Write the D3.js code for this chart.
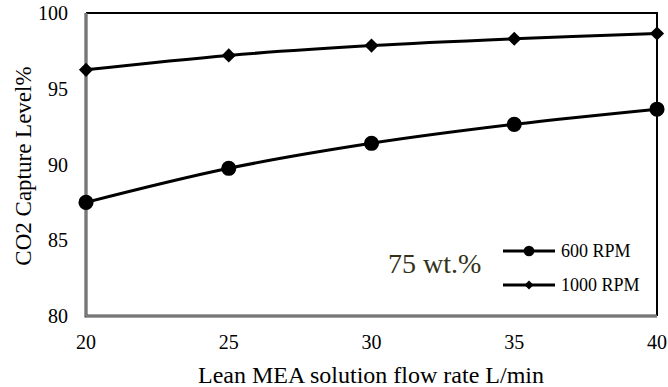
<!DOCTYPE html>
<html>
  <head>
    <meta charset="utf-8">
    <title>CO2 capture level</title>
    <script src="https://cdn.jsdelivr.net/npm/d3@7"></script>
    <style>
      body { margin: 0; background: #fff; }
      svg text { font-family: "Liberation Serif", "Times New Roman", serif; fill: #000; }
    </style>
  </head>
  <body>
    <div id="chart"></div>
    <script>
      // data
      var flowRates = [20, 25, 30, 35, 40];
      var rpm600 = [87.5, 89.75, 91.4, 92.65, 93.65];
      var rpm1000 = [96.25, 97.2, 97.85, 98.3, 98.65];
      var xTicks = [20, 25, 30, 35, 40];
      var yTicks = [80, 85, 90, 95, 100];

      var width = 668, height = 387;
      var margin = { top: 13, right: 11, bottom: 71, left: 86 };
      var w = width - margin.left - margin.right;
      var h = height - margin.top - margin.bottom;

      var svg = d3.select("#chart")
        .append("svg")
          .attr("width", width)
          .attr("height", height);

      var x = d3.scaleLinear().domain([20, 40]).range([margin.left, margin.left + w]);
      var y = d3.scaleLinear().domain([80, 100]).range([margin.top + h, margin.top]);

      // top and right frame in black
      svg.append("path")
        .attr("d", "M" + x(20) + "," + y(100) + "H" + x(40) + "V" + y(80))
        .attr("fill", "none")
        .attr("stroke", "#000")
        .attr("stroke-width", 2);

      // left and bottom axis lines, grey with dark edges
      var axisPath = "M" + x(20) + "," + y(100) + "V" + y(80) + "H" + x(40);
      svg.append("path")
        .attr("d", axisPath)
        .attr("fill", "none")
        .attr("stroke", "#444")
        .attr("stroke-width", 3);
      svg.append("path")
        .attr("d", axisPath)
        .attr("fill", "none")
        .attr("stroke", "#aaa")
        .attr("stroke-width", 1);

      // tick labels
      svg.selectAll(".ytick")
        .data(yTicks)
        .enter().append("text")
          .attr("x", margin.left - 18)
          .attr("y", function(d) { return y(d) + 7; })
          .attr("text-anchor", "end")
          .style("font-size", "20px")
          .text(function(d) { return d; });
      svg.selectAll(".xtick")
        .data(xTicks)
        .enter().append("text")
          .attr("x", function(d) { return x(d); })
          .attr("y", 349)
          .attr("text-anchor", "middle")
          .style("font-size", "20px")
          .text(function(d) { return d; });

      // axis titles
      svg.append("text")
        .attr("x", 371)
        .attr("y", 383)
        .attr("text-anchor", "middle")
        .style("font-size", "24px")
        .text("Lean MEA solution flow rate L/min");
      svg.append("text")
        .attr("transform", "translate(31,166) rotate(-90)")
        .attr("text-anchor", "middle")
        .style("font-size", "23px")
        .text("CO2 Capture Level%");

      // series
      var line = d3.line()
        .x(function(d, i) { return x(flowRates[i]); })
        .y(function(d) { return y(d); })
        .curve(d3.curveCatmullRom.alpha(0.5));

      [rpm600, rpm1000].forEach(function(s) {
        svg.append("path")
          .attr("d", line(s))
          .attr("fill", "none")
          .attr("stroke", "#000")
          .attr("stroke-width", 3);
      });

      var circle = d3.symbol().type(d3.symbolCircle);
      var diamond = d3.symbol().type(d3.symbolSquare);

      svg.selectAll(".m600")
        .data(rpm600)
        .enter().append("path")
          .attr("d", circle.size(180)())
          .attr("transform", function(d, i) { return "translate(" + x(flowRates[i]) + "," + y(d) + ")"; })
          .attr("fill", "#000");
      svg.selectAll(".m1000")
        .data(rpm1000)
        .enter().append("path")
          .attr("d", diamond.size(100)())
          .attr("transform", function(d, i) { return "translate(" + x(flowRates[i]) + "," + y(d) + ") rotate(45)"; })
          .attr("fill", "#000");

      // annotation and legend
      svg.append("text")
        .attr("x", 388)
        .attr("y", 273)
        .style("font-size", "28px")
        .style("fill", "#333319")
        .text("75 wt.%");

      var legend = [
        { label: "600 RPM", y: 251, sym: circle.size(90)(), rot: 0 },
        { label: "1000 RPM", y: 285, sym: diamond.size(40)(), rot: 45 }
      ];
      var lg = svg.selectAll(".legend")
        .data(legend)
        .enter().append("g");
      lg.append("line")
        .attr("x1", 503).attr("x2", 555)
        .attr("y1", function(d) { return d.y; })
        .attr("y2", function(d) { return d.y; })
        .attr("stroke", "#000")
        .attr("stroke-width", 3);
      lg.append("path")
        .attr("d", function(d) { return d.sym; })
        .attr("transform", function(d) { return "translate(529," + d.y + ") rotate(" + d.rot + ")"; })
        .attr("fill", "#000");
      lg.append("text")
        .attr("x", 561)
        .attr("y", function(d) { return d.y + 6; })
        .style("font-size", "18px")
        .text(function(d) { return d.label; });
    </script>
  </body>
</html>
